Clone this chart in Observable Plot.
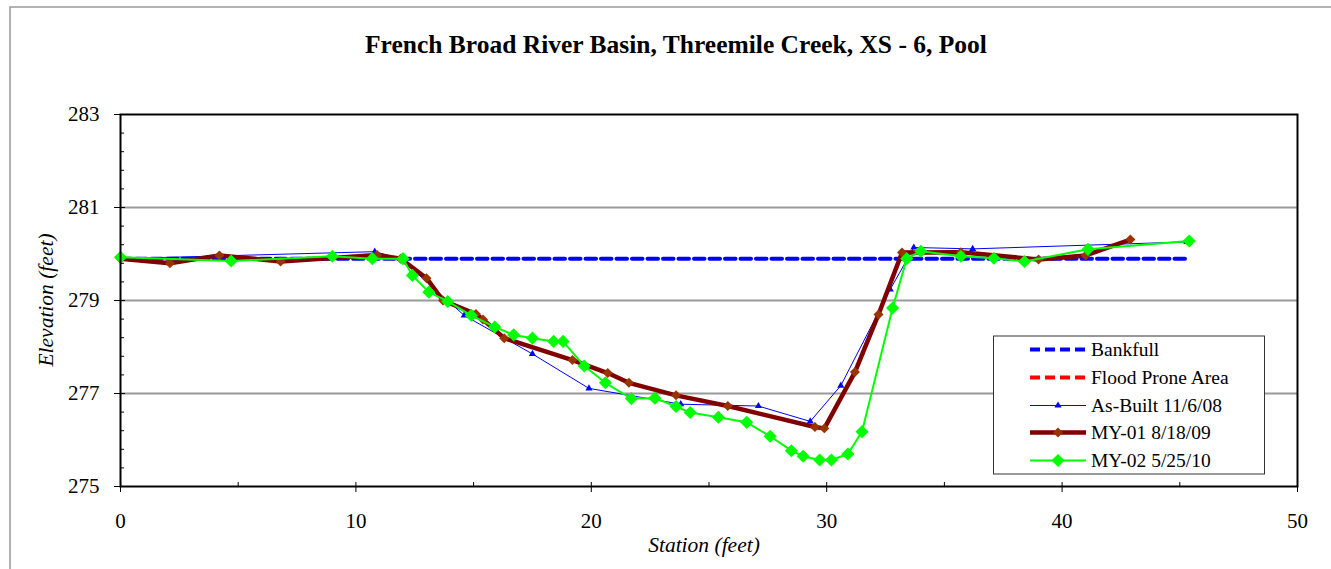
<!DOCTYPE html>
<html>
<head>
<meta charset="utf-8">
<script src="https://cdn.jsdelivr.net/npm/d3@7"></script>
<script src="https://cdn.jsdelivr.net/npm/@observablehq/plot@0.6"></script>
<style>
  html, body { margin: 0; padding: 0; background: #fff; }
  #chart { position: relative; width: 1331px; height: 569px; }
</style>
</head>
<body>
<div id="chart"></div>
<script>
// ---- data ----
const title = "French Broad River Basin, Threemile Creek, XS - 6, Pool";
const xLabel = "Station (feet)";
const yLabel = "Elevation (feet)";
const xTicks = [0, 10, 20, 30, 40, 50];
const yTicks = [275, 277, 279, 281, 283];

const bankfullStation = [0, 45.4];
const bankfullElev = [279.9, 279.9];

const asBuiltStation = [0, 10.8, 11.9, 14.6, 17.5, 19.9, 23.8, 27.1, 29.3, 30.6, 32.7, 33.7, 36.2, 45.3];
const asBuiltElev = [279.90, 280.05, 279.90, 278.68, 277.85, 277.11, 276.77, 276.73, 276.40, 277.17, 279.24, 280.14, 280.11, 280.26];

const my01Station = [0, 2.1, 4.2, 6.8, 10.9, 11.9, 13.0, 13.7, 15.1, 15.4, 16.3, 19.2, 20.7, 21.6, 23.6, 25.8, 29.5, 29.9, 31.2, 32.2, 33.2, 35.7, 39.0, 41.0, 42.9];
const my01Elev = [279.90, 279.80, 279.97, 279.84, 279.98, 279.90, 279.48, 279.00, 278.71, 278.59, 278.19, 277.72, 277.44, 277.23, 276.96, 276.73, 276.28, 276.25, 277.46, 278.70, 280.03, 280.04, 279.88, 279.97, 280.31];

const my02Station = [0, 4.7, 9.0, 10.7, 12.0, 12.4, 13.1, 13.9, 14.9, 15.9, 16.7, 17.5, 18.4, 18.8, 19.7, 20.6, 21.7, 22.7, 23.6, 24.2, 25.4, 26.6, 27.6, 28.5, 29.0, 29.7, 30.2, 30.9, 31.5, 32.8, 33.4, 34.0, 35.7, 37.1, 38.4, 41.1, 45.4];
const my02Elev = [279.93, 279.85, 279.95, 279.90, 279.90, 279.54, 279.18, 278.98, 278.68, 278.43, 278.26, 278.19, 278.12, 278.12, 277.59, 277.23, 276.89, 276.90, 276.72, 276.59, 276.49, 276.38, 276.08, 275.77, 275.65, 275.57, 275.57, 275.70, 276.18, 278.84, 279.90, 280.06, 279.95, 279.91, 279.84, 280.10, 280.28];

const legendLabels = ["Bankfull", "Flood Prone Area", "As-Built 11/6/08", "MY-01 8/18/09", "MY-02 5/25/10"];

// ---- build tables ----
const zip = (xs, ys) => xs.map((x, i) => ({x, y: ys[i]}));
const bankfull = zip(bankfullStation, bankfullElev);
const asBuilt = zip(asBuiltStation, asBuiltElev);
const my01 = zip(my01Station, my01Elev);
const my02 = zip(my02Station, my02Elev);

const font = "'Liberation Serif', 'Times New Roman', serif";
const minorY = d3.range(275, 283.001, 0.4).map(v => +v.toFixed(1)).filter(v => !yTicks.includes(v));
const minorX = [5, 15, 25, 35, 45];
const rTri = 3.4, rBrown = 4.5, rGreen = 5.9;

const plot = Plot.plot({
  width: 1331,
  height: 569,
  marginLeft: 120,
  marginRight: 34,
  marginTop: 114,
  marginBottom: 83,
  style: {fontFamily: font, fontSize: "21px", background: "#fff", color: "#000"},
  x: {domain: [0, 50]},
  y: {domain: [275, 283]},
  marks: [
    Plot.ruleY([277, 279, 281], {stroke: "#999", strokeWidth: 2}),
    Plot.axisY({ticks: yTicks, tickSize: 6, tickPadding: 15, label: null, tickFormat: d => d, fontSize: 21}),
    Plot.axisY({ticks: yTicks, tickSize: -5, text: null, label: null}),
    Plot.axisY({ticks: minorY, tickSize: -4, text: null, label: null}),
    Plot.axisX({ticks: xTicks, tickSize: 6, tickPadding: 21, label: null, tickFormat: d => d, fontSize: 21}),
    Plot.axisX({ticks: xTicks, tickSize: -4, text: null, label: null}),
    Plot.axisX({ticks: minorX, tickSize: -4, text: null, label: null}),
    Plot.line(bankfull, {x: "x", y: "y", stroke: "#0000ff", strokeWidth: 4, strokeDasharray: "10.5,5"}),
    Plot.line(asBuilt, {x: "x", y: "y", stroke: "#0000ff", strokeWidth: 1}),
    Plot.dot(asBuilt, {x: "x", y: "y", symbol: "triangle2", r: rTri, fill: "#0000ff"}),
    Plot.line(my01, {x: "x", y: "y", stroke: "#800000", strokeWidth: 4.5}),
    Plot.dot(my01, {x: "x", y: "y", symbol: "diamond2", r: rBrown, fill: "#993300"}),
    Plot.line(my02, {x: "x", y: "y", stroke: "#00ff00", strokeWidth: 2}),
    Plot.dot(my02, {x: "x", y: "y", symbol: "diamond2", r: rGreen, fill: "#00ff00"}),
    Plot.frame({stroke: "#000", strokeWidth: 2})
  ]
});

document.getElementById("chart").appendChild(plot);

// ---- decorations: outer border, title, axis labels, legend ----
const svg = d3.select(plot);
svg.insert("path", ":first-child")
  .attr("d", "M10,569V7H1331")
  .attr("fill", "none").attr("stroke", "#999").attr("stroke-width", 1.5);

svg.append("text").text(title)
  .attr("x", 676).attr("y", 53).attr("text-anchor", "middle")
  .style("font-family", font).style("font-size", "25.5px").style("font-weight", "bold").attr("fill", "#000");

svg.append("text").text(yLabel)
  .attr("transform", "translate(53,300) rotate(-90)").attr("text-anchor", "middle")
  .style("font-family", font).style("font-size", "21.5px").style("font-style", "italic").attr("fill", "#000");

svg.append("text").text(xLabel)
  .attr("x", 704).attr("y", 552).attr("text-anchor", "middle")
  .style("font-family", font).style("font-size", "21.5px").style("font-style", "italic").attr("fill", "#000");

const lg = svg.append("g").attr("text-anchor", "start");
lg.append("rect").attr("x", 993.5).attr("y", 336).attr("width", 271).attr("height", 138)
  .attr("fill", "#fff").attr("stroke", "#333").attr("stroke-width", 1);
const rows = [349.5, 377.5, 405.5, 432.5, 460.5];
const sym = d3.symbol();
legendLabels.forEach((lab, i) => {
  const y = rows[i];
  const line = lg.append("line").attr("x1", 1030).attr("x2", 1086).attr("y1", y).attr("y2", y);
  if (i === 0) line.attr("stroke", "#0000ff").attr("stroke-width", 4).attr("stroke-dasharray", "10,5");
  if (i === 1) line.attr("stroke", "#ff0000").attr("stroke-width", 4).attr("stroke-dasharray", "10,5");
  if (i === 2) {
    line.attr("stroke", "#0000ff").attr("stroke-width", 1);
    lg.append("path").attr("d", sym.type(d3.symbolTriangle2).size(Math.PI * rTri * rTri)()).attr("transform", `translate(1058,${y})`).attr("fill", "#0000ff");
  }
  if (i === 3) {
    line.attr("stroke", "#800000").attr("stroke-width", 4.5);
    lg.append("path").attr("d", sym.type(d3.symbolDiamond2).size(Math.PI * rBrown * rBrown)()).attr("transform", `translate(1058,${y})`).attr("fill", "#993300");
  }
  if (i === 4) {
    line.attr("stroke", "#00ff00").attr("stroke-width", 2);
    lg.append("path").attr("d", sym.type(d3.symbolDiamond2).size(Math.PI * rGreen * rGreen)()).attr("transform", `translate(1058,${y})`).attr("fill", "#00ff00");
  }
  lg.append("text").text(lab).attr("x", 1091).attr("y", y).attr("dy", "0.35em")
    .attr("text-anchor", "start")
    .style("font-family", font).style("font-size", "19.5px").attr("fill", "#000");
});
</script>
</body>
</html>
